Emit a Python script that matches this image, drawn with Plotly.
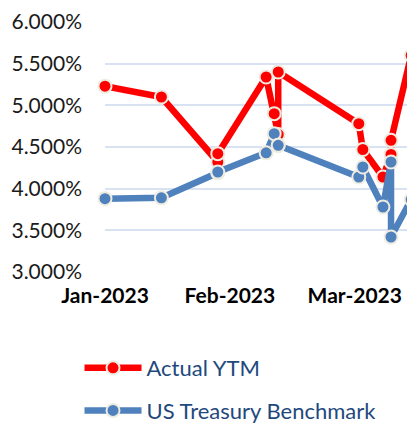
"""
Actual YTM vs US Treasury benchmark, Q1 2023
"""

import plotly.graph_objects as go

# observation dates (same for both series)
dates = [
    "2023-01-01", "2023-01-15", "2023-01-29", "2023-01-29",
    "2023-02-10", "2023-02-12", "2023-02-13", "2023-02-13",
    "2023-03-05", "2023-03-06", "2023-03-11", "2023-03-13",
    "2023-03-13", "2023-03-18",
]

# yields as fractions
actual_ytm = [
    0.0523, 0.0510, 0.0432, 0.0442,
    0.0534, 0.0490, 0.0465, 0.0540,
    0.0478, 0.0447, 0.0414, 0.0441,
    0.0458, 0.0560,
]
us_treasury = [
    0.0388, 0.0389, 0.0419, 0.0420,
    0.0443, 0.0466, 0.0452, 0.0452,
    0.0414, 0.0426, 0.0378, 0.0432,
    0.0342, 0.0387,
]

series_names = ["Actual YTM", "US Treasury Benchmark"]

# y axis gridline values
y_ticks = [0.030, 0.035, 0.040, 0.045, 0.050, 0.055, 0.060]

RED = "#FF0000"
BLUE = "#4F81BD"
MARKER_EDGE = "#EEECE1"
FONT = "Lato"

fig = go.Figure()

for name, values, color in zip(series_names, [actual_ytm, us_treasury], [RED, BLUE]):
    fig.add_trace(go.Scatter(
        x=dates,
        y=values,
        mode="lines+markers",
        name=name,
        legendgroup=name,
        line=dict(color=color, width=6.5),
        marker=dict(size=13, color=color, line=dict(color=MARKER_EDGE, width=2)),
        cliponaxis=False,
        hovertemplate="%{x|%d-%b-%Y}<br>%{y:.3%}<extra>" + name + "</extra>",
    ))

fig.update_layout(
    width=415,
    height=427,
    margin=dict(l=97, r=11, t=14, b=163, autoexpand=False),
    paper_bgcolor="white",
    plot_bgcolor="white",
    font=dict(family=FONT, size=20, color="#1a1a1a"),
    showlegend=True,
    legend=dict(
        orientation="v",
        x=-0.083,
        xanchor="left",
        y=-0.30,
        yanchor="top",
        itemwidth=57,
        tracegroupgap=11,
        font=dict(family=FONT, size=22, color="#1F497D"),
        bgcolor="rgba(0,0,0,0)",
    ),
    xaxis=dict(
        type="date",
        range=["2023-01-01", "2023-03-18 05:00"],
        tick0="2023-01-01",
        dtick=31 * 86400000,
        tickformat="%b-%Y",
        showgrid=False,
        zeroline=False,
        showline=False,
        ticks="",
        automargin=False,
        ticklabelstandoff=9,
        tickfont=dict(family=FONT, size=21, color="black", weight="bold"),
    ),
    yaxis=dict(
        range=[0.03, 0.0600001],
        tickvals=y_ticks,
        tickformat=".3%",
        showgrid=True,
        gridcolor="#D9E2F3",
        gridwidth=1.5,
        zeroline=False,
        showline=False,
        ticks="",
        automargin=False,
        ticklabeloverflow="allow",
        ticklabelstandoff=22,
        tickfont=dict(family=FONT, size=21, color="#1a1a1a"),
    ),
)

fig.write_html("out.html")
